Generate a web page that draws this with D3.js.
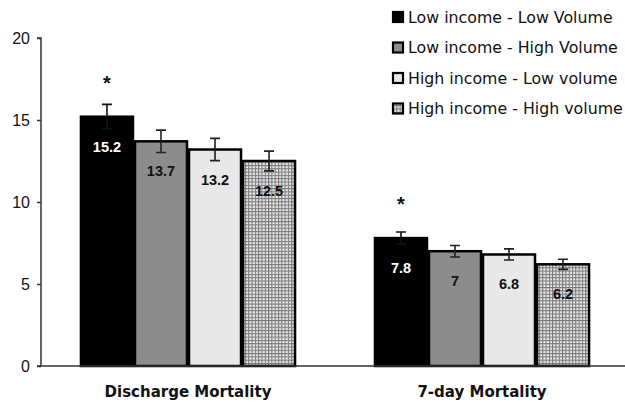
<!DOCTYPE html>
<html><head><meta charset="utf-8">
<script src="https://cdn.jsdelivr.net/npm/d3@7"></script>
<style>body{margin:0;background:#fff}svg{display:block}</style>
</head><body><svg id="c" width="625" height="402"></svg>
<script>
const categories = ["Discharge Mortality", "7-day Mortality"];
const series = ["Low income - Low Volume", "Low income - High Volume", "High income - Low volume", "High income - High volume"];
const values = [[15.2, 13.7, 13.2, 12.5], [7.8, 7, 6.8, 6.2]];
const errors = [[0.75, 0.68, 0.68, 0.6], [0.37, 0.35, 0.34, 0.31]];
const significant = [[true, false, false, false], [true, false, false, false]];
const yTicks = [0, 5, 10, 15, 20];

const svg = d3.select("#c");
const defs = svg.append("defs");
const pat = defs.append("pattern").attr("id","chk").attr("patternUnits","userSpaceOnUse")
  .attr("width",3.3).attr("height",3.3);
pat.append("rect").attr("width",3.3).attr("height",3.3).attr("fill","#e8e8e8");
pat.append("path").attr("d","M0,0.5H3.3M0.5,0V3.3").attr("stroke","#777").attr("stroke-width",1.1);

const fills = ["#000000", "#8c8c8c", "#e8e8e8", "url(#chk)"];
const labelColors = ["#fff", "#111", "#111", "#111"];

const y = d3.scaleLinear().domain([0,20]).range([366,38]);
const x0 = d3.scaleBand().domain(categories).range([41,629]).paddingInner(0.265).paddingOuter(0.1325);
const x1 = d3.scaleBand().domain(series).range([0,x0.bandwidth()]);

// y axis
const yAxis = d3.axisLeft(y).tickValues(yTicks).tickSize(4).tickFormat(d3.format("d"));
const ga = svg.append("g").attr("transform","translate(41,0)").call(yAxis);
ga.select(".domain").attr("stroke","#333").attr("stroke-width",1.5).attr("d","M-4,38H0V366");
ga.selectAll(".tick line").attr("stroke","#333").attr("stroke-width",1.5);
ga.selectAll(".tick text").attr("font-family","Liberation Sans, Arial").attr("font-size",16).attr("fill","#111").attr("x",-11);

// bars
const groups = svg.append("g").selectAll("g").data(categories).join("g")
  .attr("transform", d => `translate(${x0(d)},0)`);
groups.each(function(cat, ci){
  const g = d3.select(this);
  series.forEach((s, si) => {
    const v = values[ci][si], e = errors[ci][si];
    const bx = x1(s), bw = x1.bandwidth();
    g.append("rect").attr("x",bx+1).attr("y",y(v)).attr("width",bw-2).attr("height",y(0)-y(v))
      .attr("fill",fills[si]).attr("stroke","#000").attr("stroke-width",2.5);
    const cx = bx + bw/2;
    g.append("path").attr("d",`M${cx-5},${y(v+e)}H${cx+5}M${cx},${y(v+e)}V${y(v-e)}M${cx-5},${y(v-e)}H${cx+5}`)
      .attr("stroke", si===0 ? "#111" : "#222").attr("stroke-width",1.6).attr("fill","none");
    g.append("text").attr("x",cx).attr("y",y(v)+35).attr("text-anchor","middle")
      .attr("font-family","Liberation Sans, Arial").attr("font-weight","bold").attr("font-size",14.5)
      .attr("fill",labelColors[si]).text(v);
    if (significant[ci][si]) {
      g.append("text").attr("x",cx).attr("y",y(v)-27).attr("text-anchor","middle")
        .attr("font-family","Liberation Sans, Arial").attr("font-weight","bold").attr("font-size",20)
        .attr("fill","#111").text("*");
    }
  });
});

// x axis line
svg.append("path").attr("d","M37,366H625").attr("stroke","#333").attr("stroke-width",1.5);

// category labels
svg.append("g").selectAll("text").data(categories).join("text")
  .attr("x", d => x0(d)+x0.bandwidth()/2).attr("y",397).attr("text-anchor","middle")
  .attr("font-family","DejaVu Sans, Verdana").attr("font-weight","bold").attr("font-size",15)
  .attr("fill","#111").text(d => d);

// legend
const leg = svg.append("g").selectAll("g").data(series).join("g")
  .attr("transform",(d,i)=>`translate(393,${17+i*30.5})`);
leg.append("rect").attr("x",0).attr("y",-5).attr("width",10).attr("height",10)
  .attr("fill",(d,i)=>fills[i]).attr("stroke","#000").attr("stroke-width",2.2);
leg.append("text").attr("x",15).attr("y",5.5)
  .attr("font-family","DejaVu Sans, Verdana").attr("font-size",15.8).attr("fill","#111").text(d=>d);
</script></body></html>
